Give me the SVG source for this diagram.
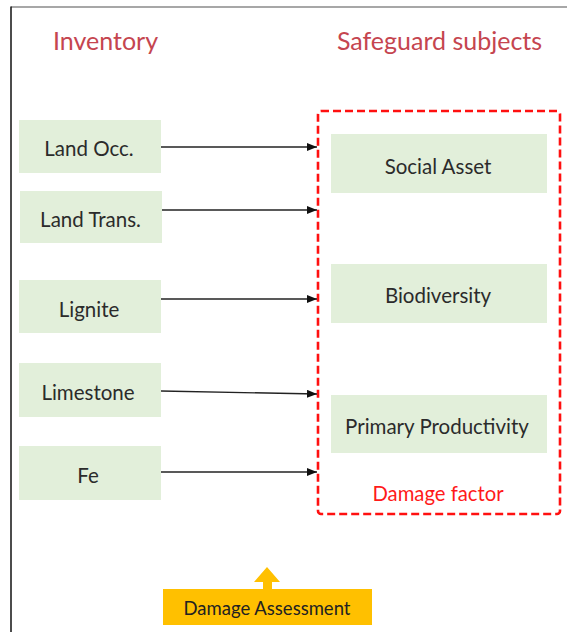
<svg xmlns="http://www.w3.org/2000/svg" width="567" height="632" viewBox="0 0 567 632">
  <defs>
    <marker id="arrow" markerWidth="10" markerHeight="8" refX="10" refY="4" orient="auto" markerUnits="userSpaceOnUse">
      <path d="M0,0 L10,4 L0,8 Z" fill="#111"/>
    </marker>
    <style>
      .frame-top { stroke: #8a8a8a; stroke-width: 1.5; }
      .frame-left { stroke: #111; stroke-width: 1.5; }
      .box { fill: #e2efda; }
      .label { font-family: Lato, "Liberation Sans", sans-serif; font-size: 20.5px; fill: #2b2b2b; text-anchor: middle; }
      .title { font-family: Lato, "Liberation Sans", sans-serif; font-size: 25px; fill: #c5454f; text-anchor: middle; }
      .factor { font-family: Lato, "Liberation Sans", sans-serif; font-size: 20.3px; fill: #ff1a1a; text-anchor: middle; }
      .link { stroke: #222; stroke-width: 1.4; fill: none; marker-end: url(#arrow); }
      .group-box { fill: none; stroke: #ff1010; stroke-width: 2.6; stroke-dasharray: 8 4; }
      .assess { fill: #ffc000; }
      .assess-text { font-family: Lato, "Liberation Sans", sans-serif; font-size: 18.5px; fill: #222; text-anchor: middle; }
    </style>
  </defs>

  <rect width="567" height="632" fill="#ffffff"/>

  <!-- page frame -->
  <line class="frame-top" x1="11" y1="7" x2="567" y2="7"/>
  <line class="frame-left" x1="11" y1="6.5" x2="11" y2="632"/>

  <!-- column headings -->
  <text class="title" x="105.5" y="50">Inventory</text>
  <text class="title" x="439.5" y="50">Safeguard subjects</text>

  <!-- damage factor grouping -->
  <g id="damage-factor">
    <rect class="group-box" x="318" y="111" width="242" height="403" rx="3"/>
    <text class="factor" x="438" y="501">Damage factor</text>
  </g>

  <!-- inventory nodes -->
  <g id="land-occ">
    <rect class="box" x="19" y="120" width="142" height="53"/>
    <text class="label" x="89" y="156">Land Occ.</text>
  </g>
  <g id="land-trans">
    <rect class="box" x="20" y="191" width="142" height="52"/>
    <text class="label" x="90.5" y="227">Land Trans.</text>
  </g>
  <g id="lignite">
    <rect class="box" x="19" y="280" width="142" height="53"/>
    <text class="label" x="89" y="317">Lignite</text>
  </g>
  <g id="limestone">
    <rect class="box" x="19" y="363" width="142" height="54"/>
    <text class="label" x="88" y="400">Limestone</text>
  </g>
  <g id="fe">
    <rect class="box" x="19" y="446" width="142" height="54"/>
    <text class="label" x="88" y="483">Fe</text>
  </g>

  <!-- safeguard subject nodes -->
  <g id="social-asset">
    <rect class="box" x="331" y="134" width="216" height="59"/>
    <text class="label" x="438" y="174">Social Asset</text>
  </g>
  <g id="biodiversity">
    <rect class="box" x="331" y="264" width="216" height="59"/>
    <text class="label" x="438" y="303">Biodiversity</text>
  </g>
  <g id="primary-productivity">
    <rect class="box" x="331" y="395" width="216" height="58"/>
    <text class="label" x="437" y="434">Primary Productivity</text>
  </g>

  <!-- damage assessment -->
  <g id="damage-assessment">
    <path class="assess" d="M263,589 L263,582 L254,582 L267,567 L280,582 L272,582 L272,589 Z"/>
    <rect class="assess" x="163" y="589" width="209" height="36"/>
    <text class="assess-text" x="267" y="615">Damage Assessment</text>
  </g>

  <!-- connectors -->
  <g id="connectors">
    <line class="link" x1="161" y1="147" x2="317" y2="147"/>
    <line class="link" x1="162" y1="210" x2="317" y2="210"/>
    <line class="link" x1="161" y1="299" x2="317" y2="299"/>
    <line class="link" x1="161" y1="391" x2="317" y2="394"/>
    <line class="link" x1="161" y1="472" x2="317" y2="472"/>
  </g>
</svg>
